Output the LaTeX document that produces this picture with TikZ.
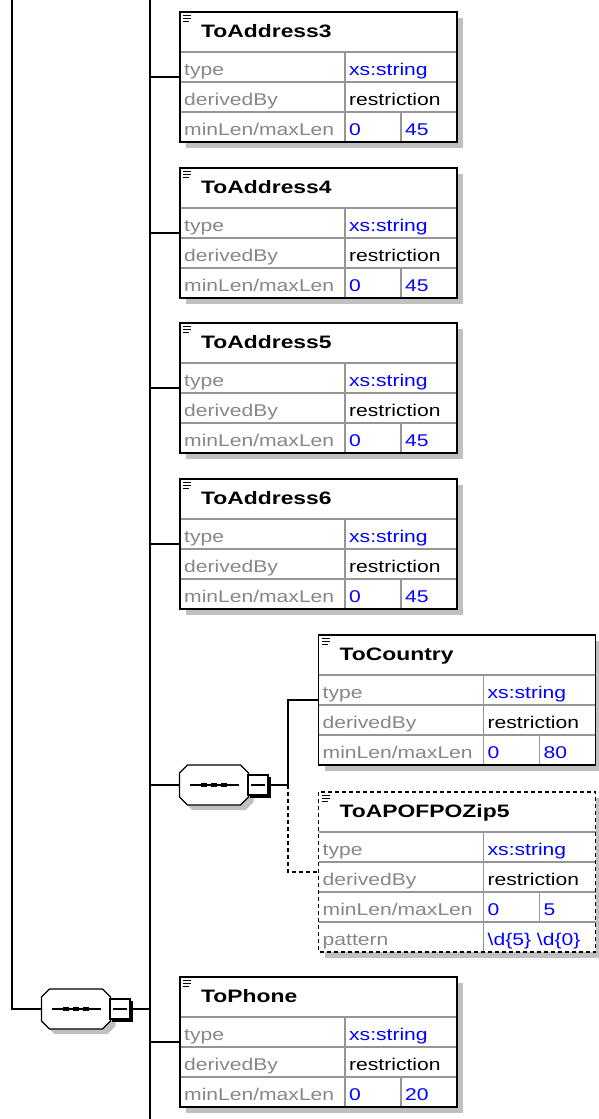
\documentclass[tikz,border=0pt]{standalone}
\usepackage{fontspec}
\usetikzlibrary{calc}
\newfontfamily\lblfont[FakeStretch=1.24]{Liberation Sans}
\newfontfamily\ttlfont[FakeStretch=1.27]{Liberation Sans}
\definecolor{lblgray}{RGB}{135,135,135}
\definecolor{valblue}{RGB}{0,0,255}
\definecolor{sepgray}{RGB}{150,150,150}
\definecolor{shadowc}{RGB}{192,192,192}
\tikzset{
 boxbg/.style={anchor=north west, minimum width=277pt, inner sep=0pt, outer sep=0pt, fill=white, draw=none},
 sepline/.style={draw=sepgray, line width=1.3pt},
 border/.style={draw=black, line width=1.8pt},
 dborder/.style={draw=black, line width=1.8pt, dash pattern=on 4pt off 3pt},
 conn/.style={draw=black, line width=1.8pt},
 dconn/.style={draw=black, line width=1.8pt, dash pattern=on 4pt off 3pt},
 lbl/.style={anchor=base west, inner sep=0pt, text=lblgray, font=\lblfont\fontsize{17}{20}\selectfont},
 val/.style={lbl, text=valblue},
 valk/.style={lbl, text=black},
 ttl/.style={anchor=base west, inner sep=0pt, font=\ttlfont\bfseries\fontsize{18}{22}\selectfont},
 seqnode/.style={minimum width=69pt, minimum height=40pt, inner sep=0pt, outer sep=0pt, draw=none},
 minusbox/.style={draw=black, fill=white, line width=1.3pt, minimum size=20pt, inner sep=0pt, outer sep=0pt},
 symline/.style={draw=black, line width=1.3pt},
}
% #1 name #2 x #3 y #4 title #5 min #6 max #7 rows #8 border style
\newcommand\elembox[8]{%
 \pgfmathsetmacro\bh{40+30*#7}%
 \fill[shadowc] (#2+6,#3+6) rectangle (#2+283,#3+\bh+6);
 \node[boxbg, minimum height=\bh pt] (#1) at (#2,#3) {};
 \foreach \rowi in {1,...,#7} \draw[sepline] (#2,#3+10+30*\rowi) -- (#2+277,#3+10+30*\rowi);
 \draw[sepline] (#2+165,#3+40) -- (#2+165,#3+\bh);
 \draw[sepline] (#2+221,#3+100) -- (#2+221,#3+130);
 \draw[line width=1.4pt] (#2+3,#3+3.5) -- (#2+11,#3+3.5) (#2+3,#3+6.5) -- (#2+11,#3+6.5) (#2+3,#3+9.5) -- (#2+9,#3+9.5);
 \node[ttl] (#1-title) at (#2+21,#3+25) {#4};
 \node[lbl] (#1-l1) at (#2+4,#3+63) {type};
 \node[val] (#1-v1) at (#2+169,#3+63) {xs:string};
 \node[lbl] (#1-l2) at (#2+4,#3+93) {derivedBy};
 \node[valk] (#1-v2) at (#2+169,#3+93) {restriction};
 \node[lbl] (#1-l3) at (#2+4,#3+123) {minLen/maxLen};
 \node[val] (#1-v3) at (#2+169,#3+123) {#5};
 \node[val] (#1-v4) at (#2+225,#3+123) {#6};
 \draw[#8] (#1.north west) rectangle (#1.south east);
}
% #1 name #2 cx #3 cy #4 minus-box name
\newcommand\seqsym[4]{%
 \fill[shadowc, shift={(5,5)}] (#2-34.5,#3-12) -- (#2-26.5,#3-20) -- (#2+26.5,#3-20) -- (#2+34.5,#3-12) -- (#2+34.5,#3+12) -- (#2+26.5,#3+20) -- (#2-26.5,#3+20) -- (#2-34.5,#3+12) -- cycle;
 \draw[symline, fill=white] (#2-34.5,#3-12) -- (#2-26.5,#3-20) -- (#2+26.5,#3-20) -- (#2+34.5,#3-12) -- (#2+34.5,#3+12) -- (#2+26.5,#3+20) -- (#2-26.5,#3+20) -- (#2-34.5,#3+12) -- cycle;
 \node[seqnode] (#1) at (#2,#3) {};
 \draw[symline] (#2-24,#3) -- (#2+25,#3);
 \foreach \dd in {-10,0,10} \fill (#2+\dd-3.2,#3-2.3) rectangle (#2+\dd+3.2,#3+2.3);
 \fill (#2+36,#3-8) rectangle (#2+56.5,#3+12.5);
 \node[minusbox] (#4) at (#2+44,#3) {};
 \draw[symline] ($(#4.west)+(3,0)$) -- ($(#4.east)+(-3,0)$);
}
\begin{document}
\begin{tikzpicture}[x=1pt,y=-1pt]
\useasboundingbox[fill=white] (0,0) rectangle (599,1119);
\coordinate (bustop) at (150,0);
\coordinate (busbot) at (150,1119);
\coordinate (lefttop) at (12.3,0);
\coordinate (j1) at (287.7,785);

\elembox{a3}{180}{12}{ToAddress3}{0}{45}{3}{border}
\elembox{a4}{180}{168}{ToAddress4}{0}{45}{3}{border}
\elembox{a5}{180}{323}{ToAddress5}{0}{45}{3}{border}
\elembox{a6}{180}{479}{ToAddress6}{0}{45}{3}{border}
\elembox{country}{318.5}{635}{ToCountry}{0}{80}{3}{border}
\elembox{zip}{318.5}{792}{ToAPOFPOZip5}{0}{5}{4}{dborder}
\node[lbl] (zip-l4) at (322.5,945) {pattern};
\node[val] (zip-v5) at (487.5,945) {\textbackslash d\{5\} \textbackslash d\{0\}};
\elembox{phone}{180}{977}{ToPhone}{0}{20}{3}{border}

\seqsym{seq1}{214}{785}{m1}
\seqsym{seq2}{76}{1009}{m2}

\draw[conn] (bustop) -- (busbot);
\draw[conn] (lefttop) |- (seq2.west);
\draw[conn] (m2.east) -- (m2.east -| bustop);
\foreach \n in {a3,a4,a5,a6,phone} \draw[conn] (\n.west -| bustop) -- (\n.west);
\draw[conn] (seq1.west -| bustop) -- (seq1.west);
\draw[conn] (m1.east) -- (j1);
\draw[conn] (j1) |- (country.west);
\draw[dconn] (j1) |- (zip.west);
\end{tikzpicture}
\end{document}
